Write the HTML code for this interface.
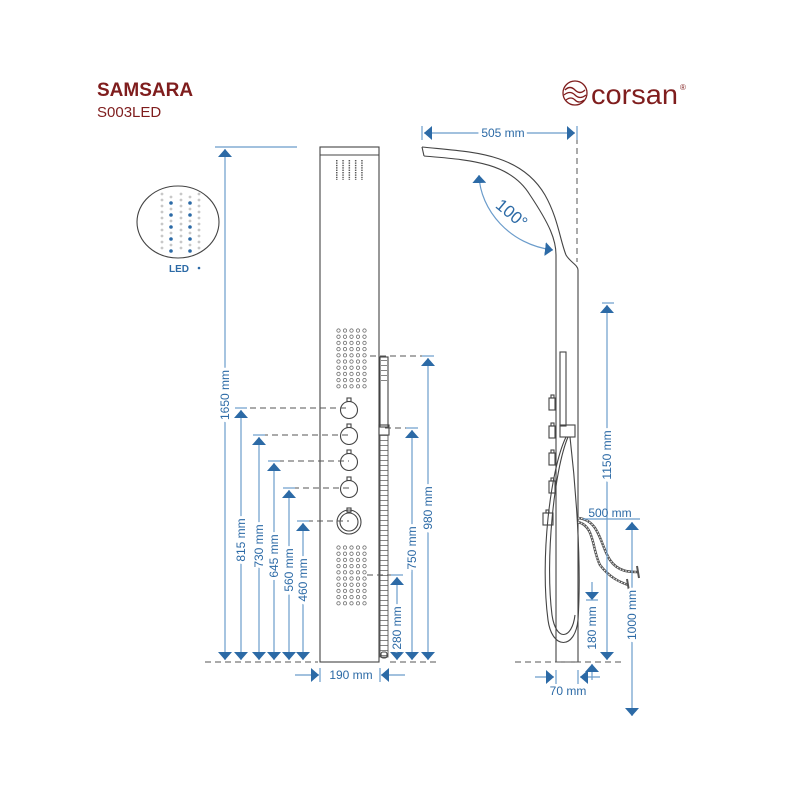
<!DOCTYPE html>
<html><head><meta charset="utf-8"><style>
html,body{margin:0;padding:0;background:#fff;width:800px;height:800px;overflow:hidden}
svg{display:block}
text{font-family:"Liberation Sans",Arial,sans-serif}
.d{stroke:#6b9ccb;stroke-width:1.2;fill:none}
.dash{stroke:#555;stroke-width:1;stroke-dasharray:6 4;fill:none}
.o{stroke:#444;stroke-width:1.1;fill:none}
.t{fill:#2c6aa6;font-size:12px}
</style></head><body>
<svg width="800" height="800" viewBox="0 0 800 800" xmlns="http://www.w3.org/2000/svg">
<defs>
<marker id="a" viewBox="0 0 10 10" refX="10" refY="5" markerWidth="8" markerHeight="14" markerUnits="userSpaceOnUse" orient="auto-start-reverse" preserveAspectRatio="none"><path d="M0 0L10 5L0 10z" fill="#2c6aa6"/></marker>
<pattern id="jet" x="336" y="328" width="6.5" height="6.2" patternUnits="userSpaceOnUse"><circle cx="2.5" cy="2.5" r="1.7" fill="none" stroke="#555" stroke-width="0.7"/></pattern>
<pattern id="jet2" x="336" y="545" width="6.5" height="6.2" patternUnits="userSpaceOnUse"><circle cx="2.5" cy="2.5" r="1.7" fill="none" stroke="#555" stroke-width="0.7"/></pattern>
<pattern id="noz" x="336" y="160" width="6.3" height="2.4" patternUnits="userSpaceOnUse"><rect x="0" y="0" width="1.5" height="1.4" fill="#555"/></pattern>
<pattern id="ladder" x="380" y="430" width="8" height="5" patternUnits="userSpaceOnUse"><line x1="0" y1="0.5" x2="8" y2="0.5" stroke="#666" stroke-width="0.8"/></pattern>
</defs>

<text x="97" y="96" font-size="19" font-weight="bold" fill="#7f1d1d">SAMSARA</text>
<text x="97" y="117" font-size="15" fill="#7f1d1d">S003LED</text>

<g stroke="#7f1d1d" fill="none" stroke-width="1.3">
<circle cx="575" cy="93" r="12"/>
<path d="M565 90q5-5 10 0t10 0M564 95q6-5 11 0t11 0M566 100q5-4 9 0t9 0"/>
</g>
<text x="591" y="104" font-size="28" fill="#7f1d1d" textLength="87" lengthAdjust="spacingAndGlyphs">corsan</text>
<text x="680" y="90" font-size="8" fill="#7f1d1d">®</text>

<ellipse cx="178" cy="222" rx="41" ry="36" class="o"/>
<g fill="#c8c8c8">
<circle cx="162" cy="194" r="1.4"/><circle cx="162" cy="200" r="1.4"/><circle cx="162" cy="206" r="1.4"/><circle cx="162" cy="212" r="1.4"/><circle cx="162" cy="218" r="1.4"/><circle cx="162" cy="224" r="1.4"/><circle cx="162" cy="230" r="1.4"/><circle cx="162" cy="236" r="1.4"/><circle cx="162" cy="242" r="1.4"/><circle cx="162" cy="248" r="1.4"/>
<circle cx="181" cy="194" r="1.4"/><circle cx="181" cy="200" r="1.4"/><circle cx="181" cy="206" r="1.4"/><circle cx="181" cy="212" r="1.4"/><circle cx="181" cy="218" r="1.4"/><circle cx="181" cy="224" r="1.4"/><circle cx="181" cy="230" r="1.4"/><circle cx="181" cy="236" r="1.4"/><circle cx="181" cy="242" r="1.4"/><circle cx="181" cy="248" r="1.4"/>
<circle cx="199" cy="194" r="1.4"/><circle cx="199" cy="200" r="1.4"/><circle cx="199" cy="206" r="1.4"/><circle cx="199" cy="212" r="1.4"/><circle cx="199" cy="218" r="1.4"/><circle cx="199" cy="224" r="1.4"/><circle cx="199" cy="230" r="1.4"/><circle cx="199" cy="236" r="1.4"/><circle cx="199" cy="242" r="1.4"/><circle cx="199" cy="248" r="1.4"/>
<circle cx="171" cy="197" r="1.4"/><circle cx="171" cy="209" r="1.4"/><circle cx="171" cy="221" r="1.4"/><circle cx="171" cy="233" r="1.4"/><circle cx="171" cy="245" r="1.4"/>
<circle cx="190" cy="197" r="1.4"/><circle cx="190" cy="209" r="1.4"/><circle cx="190" cy="221" r="1.4"/><circle cx="190" cy="233" r="1.4"/><circle cx="190" cy="245" r="1.4"/>
</g>
<g fill="#2c6aa6">
<circle cx="171" cy="203" r="1.8"/><circle cx="171" cy="215" r="1.8"/><circle cx="171" cy="227" r="1.8"/><circle cx="171" cy="239" r="1.8"/><circle cx="171" cy="251" r="1.8"/>
<circle cx="190" cy="203" r="1.8"/><circle cx="190" cy="215" r="1.8"/><circle cx="190" cy="227" r="1.8"/><circle cx="190" cy="239" r="1.8"/><circle cx="190" cy="251" r="1.8"/>
</g>
<text x="169" y="272" font-size="10" font-weight="bold" fill="#2c6aa6">LED</text>
<circle cx="199" cy="268" r="1.3" fill="#2c6aa6"/>

<rect x="320" y="147" width="59" height="515" class="o"/>
<line x1="320" y1="155" x2="379" y2="155" class="o"/>
<rect x="336" y="160" width="27" height="20" fill="url(#noz)"/>
<rect x="336" y="328" width="32" height="62" fill="url(#jet)"/>
<rect x="336" y="545" width="32" height="62" fill="url(#jet2)"/>
<g class="o">
<circle cx="349" cy="410" r="8.5"/><rect x="347" y="398" width="4" height="3.5"/>
<circle cx="349" cy="436" r="8.5"/><rect x="347" y="424" width="4" height="3.5"/>
<circle cx="349" cy="462" r="8.5"/><rect x="347" y="450" width="4" height="3.5"/>
<circle cx="349" cy="489" r="8.5"/><rect x="347" y="477" width="4" height="3.5"/>
<circle cx="349" cy="522" r="12"/><circle cx="349" cy="522" r="9"/><rect x="347" y="508" width="4" height="4"/>
</g>
<rect x="380" y="357" width="8" height="70" class="o"/>
<rect x="381" y="360" width="6" height="22" fill="url(#ladder)"/>
<rect x="379" y="425" width="10" height="10" class="o"/>
<rect x="380" y="435" width="8" height="222" fill="url(#ladder)" stroke="#555" stroke-width="0.9"/>
<rect x="381" y="652" width="6" height="6" rx="2" class="o"/>

<g class="dash">
<line x1="250" y1="408" x2="349" y2="408"/>
<line x1="262" y1="435" x2="349" y2="435"/>
<line x1="278" y1="461" x2="349" y2="461"/>
<line x1="293" y1="488" x2="349" y2="488"/>
<line x1="307" y1="521" x2="349" y2="521"/>
<line x1="370" y1="356" x2="432" y2="356"/>
<line x1="385" y1="428" x2="416" y2="428"/>
<line x1="367" y1="575" x2="401" y2="575"/>
<line x1="205" y1="662" x2="318" y2="662"/>
<line x1="390" y1="662" x2="440" y2="662"/>
</g>
<line x1="215" y1="147" x2="297" y2="147" class="d"/>
<g class="d">
<line x1="225" y1="149" x2="225" y2="660" marker-start="url(#a)" marker-end="url(#a)"/>
<line x1="241" y1="410" x2="241" y2="660" marker-start="url(#a)" marker-end="url(#a)"/>
<line x1="259" y1="437" x2="259" y2="660" marker-start="url(#a)" marker-end="url(#a)"/>
<line x1="274" y1="463" x2="274" y2="660" marker-start="url(#a)" marker-end="url(#a)"/>
<line x1="289" y1="490" x2="289" y2="660" marker-start="url(#a)" marker-end="url(#a)"/>
<line x1="303" y1="523" x2="303" y2="660" marker-start="url(#a)" marker-end="url(#a)"/>
<line x1="428" y1="358" x2="428" y2="660" marker-start="url(#a)" marker-end="url(#a)"/>
<line x1="412" y1="430" x2="412" y2="660" marker-start="url(#a)" marker-end="url(#a)"/>
<line x1="397" y1="577" x2="397" y2="660" marker-start="url(#a)" marker-end="url(#a)"/>
<line x1="295" y1="675" x2="319" y2="675" marker-end="url(#a)"/>
<line x1="405" y1="675" x2="381" y2="675" marker-end="url(#a)"/>
<line x1="320" y1="668" x2="320" y2="682"/><line x1="380" y1="668" x2="380" y2="682"/>
<line x1="235" y1="408" x2="247" y2="408"/><line x1="253" y1="435" x2="265" y2="435"/>
<line x1="268" y1="461" x2="280" y2="461"/><line x1="283" y1="488" x2="295" y2="488"/>
<line x1="297" y1="521" x2="309" y2="521"/><line x1="422" y1="356" x2="434" y2="356"/>
<line x1="406" y1="428" x2="418" y2="428"/><line x1="391" y1="575" x2="403" y2="575"/>
</g>
<g class="t" text-anchor="middle">
<text transform="translate(229,395) rotate(-90)" stroke="#fff" stroke-width="6">1650 mm</text>
<text transform="translate(229,395) rotate(-90)">1650 mm</text>
<text transform="translate(245,540) rotate(-90)" stroke="#fff" stroke-width="6">815 mm</text>
<text transform="translate(245,540) rotate(-90)">815 mm</text>
<text transform="translate(263,546) rotate(-90)" stroke="#fff" stroke-width="6">730 mm</text>
<text transform="translate(263,546) rotate(-90)">730 mm</text>
<text transform="translate(278,556) rotate(-90)" stroke="#fff" stroke-width="6">645 mm</text>
<text transform="translate(278,556) rotate(-90)">645 mm</text>
<text transform="translate(293,570) rotate(-90)" stroke="#fff" stroke-width="6">560 mm</text>
<text transform="translate(293,570) rotate(-90)">560 mm</text>
<text transform="translate(307,580) rotate(-90)" stroke="#fff" stroke-width="6">460 mm</text>
<text transform="translate(307,580) rotate(-90)">460 mm</text>
<text transform="translate(432,508) rotate(-90)" stroke="#fff" stroke-width="6">980 mm</text>
<text transform="translate(432,508) rotate(-90)">980 mm</text>
<text transform="translate(416,548) rotate(-90)" stroke="#fff" stroke-width="6">750 mm</text>
<text transform="translate(416,548) rotate(-90)">750 mm</text>
<text transform="translate(401,628) rotate(-90)" stroke="#fff" stroke-width="6">280 mm</text>
<text transform="translate(401,628) rotate(-90)">280 mm</text>
<text x="351" y="679">190 mm</text>
</g>

<g class="o">
<path d="M422 147 C470 152 520 152 545 195 C558 218 560 240 566 255 C570 262 578 265 578 270 L578 662"/>
<path d="M424 156 C470 160 510 162 530 195 C550 225 556 240 556 255 L556 662"/>
<line x1="422" y1="147" x2="424" y2="156"/>
<line x1="556" y1="662" x2="578" y2="662"/>
<rect x="560" y="352" width="6" height="74"/>
<rect x="560" y="425" width="15" height="12"/>
<rect x="549" y="398" width="6" height="12"/><rect x="551" y="395" width="3" height="3"/>
<rect x="549" y="426" width="6" height="12"/><rect x="551" y="423" width="3" height="3"/>
<rect x="549" y="453" width="6" height="12"/><rect x="551" y="450" width="3" height="3"/>
<rect x="549" y="481" width="6" height="12"/><rect x="551" y="478" width="3" height="3"/>
<rect x="543" y="513" width="10" height="12"/><rect x="546" y="510" width="3" height="3"/>
<path d="M566 437 C550 470 540 560 548 620 C552 650 575 650 578 620 C582 560 575 480 570 437"/>
<path d="M568 437 C554 470 545 560 552 615 C556 642 572 640 575 615"/>
</g>
<g stroke="#555" stroke-width="2.5" fill="none">
<path d="M578 518 C600 520 600 545 610 560 C618 572 630 572 638 572"/>
<path d="M578 522 C595 526 592 550 600 565 C610 578 620 582 628 585"/>
</g>
<g stroke="#fff" stroke-width="1" fill="none" stroke-dasharray="1.5 1.5">
<path d="M578 518 C600 520 600 545 610 560 C618 572 630 572 638 572"/>
<path d="M578 522 C595 526 592 550 600 565 C610 578 620 582 628 585"/>
</g>
<line x1="637" y1="566" x2="639" y2="578" stroke="#555" stroke-width="2"/>
<line x1="627" y1="579" x2="629" y2="591" stroke="#555" stroke-width="2"/>

<g class="dash">
<line x1="577" y1="138" x2="577" y2="262"/>
<line x1="515" y1="662" x2="625" y2="662"/>
</g>
<g class="d">
<line x1="424" y1="133" x2="575" y2="133" marker-start="url(#a)" marker-end="url(#a)"/>
<line x1="422" y1="126" x2="422" y2="140"/><line x1="577" y1="126" x2="577" y2="140"/>
<path d="M479 175 C480 210 510 245 553 250" marker-start="url(#a)" marker-end="url(#a)"/>
<line x1="607" y1="305" x2="607" y2="660" marker-start="url(#a)" marker-end="url(#a)"/>
<line x1="602" y1="303" x2="614" y2="303"/>
<line x1="632" y1="522" x2="632" y2="716" marker-start="url(#a)" marker-end="url(#a)"/>
<line x1="583" y1="519" x2="640" y2="519"/>
<line x1="592" y1="582" x2="592" y2="600" marker-end="url(#a)"/>
<line x1="592" y1="680" x2="592" y2="664" marker-end="url(#a)"/>
<line x1="586" y1="600" x2="598" y2="600"/>
<line x1="535" y1="677" x2="554" y2="677" marker-end="url(#a)"/>
<line x1="600" y1="677" x2="580" y2="677" marker-end="url(#a)"/>
<line x1="556" y1="670" x2="556" y2="684"/><line x1="578" y1="670" x2="578" y2="684"/>
</g>
<g class="t" text-anchor="middle">
<text x="503" y="137" stroke="#fff" stroke-width="6">505 mm</text>
<text x="503" y="137">505 mm</text>
<text transform="translate(508,218) rotate(40)" font-size="17" stroke="#fff" stroke-width="5">100°</text>
<text transform="translate(508,218) rotate(40)" font-size="17">100°</text>
<text transform="translate(611,455) rotate(-90)" stroke="#fff" stroke-width="6">1150 mm</text>
<text transform="translate(611,455) rotate(-90)">1150 mm</text>
<text transform="translate(636,615) rotate(-90)" stroke="#fff" stroke-width="6">1000 mm</text>
<text transform="translate(636,615) rotate(-90)">1000 mm</text>
<text transform="translate(596,628) rotate(-90)" stroke="#fff" stroke-width="6">180 mm</text>
<text transform="translate(596,628) rotate(-90)">180 mm</text>
<text x="610" y="517">500 mm</text>
<text x="568" y="695">70 mm</text>
</g>
</svg>
</body></html>
